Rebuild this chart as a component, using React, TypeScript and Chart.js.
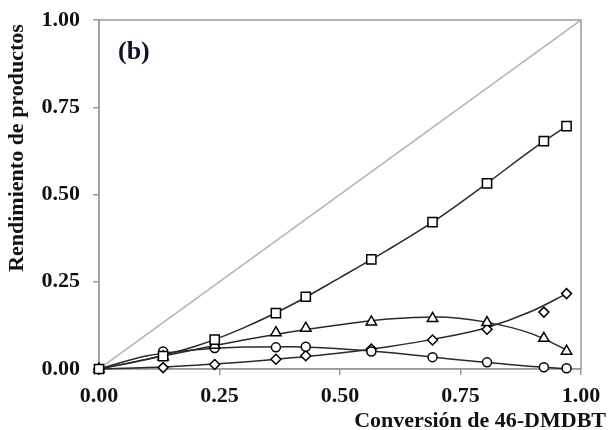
import React, { useEffect, useRef } from "react";
import { Chart, registerables } from "chart.js";

Chart.register(...registerables);

// Measured points (x = conversion of 46-DMDBT)
const xConv = [0, 0.133, 0.24, 0.367, 0.429, 0.565, 0.692, 0.805, 0.923, 0.97];
const squareVals = [0, 0.037, 0.084, 0.16, 0.207, 0.314, 0.421, 0.532, 0.653, 0.696];
const triangleVals = [0, 0.035, 0.068, 0.104, 0.117, 0.135, 0.145, 0.133, 0.088, 0.051];
const circleVals = [0, 0.05, 0.06, 0.062, 0.064, 0.05, 0.034, 0.019, 0.005, 0.002];
const diamondVals = [0, 0.004, 0.013, 0.028, 0.038, 0.057, 0.083, 0.114, 0.163, 0.216];

// Trend curves
const fitX = [0, 0.1, 0.2, 0.3, 0.4, 0.5, 0.6, 0.7, 0.8, 0.9, 0.97];
const squareFit = [0, 0.028, 0.065, 0.118, 0.184, 0.262, 0.342, 0.428, 0.527, 0.63, 0.696];
const triangleFit = [0, 0.028, 0.056, 0.083, 0.107, 0.127, 0.143, 0.149, 0.135, 0.1, 0.055];
const circleFit = [0, 0.038, 0.055, 0.063, 0.064, 0.058, 0.047, 0.033, 0.019, 0.007, 0.001];
const diamondFit = [0, 0.004, 0.011, 0.02, 0.032, 0.046, 0.064, 0.087, 0.117, 0.167, 0.216];

const diagX = [0, 1];
const diagY = [0, 1];

const tickValues = [0, 0.25, 0.5, 0.75, 1];

const xTitle = "Conversión de 46-DMDBT";
const yTitle = "Rendimiento de productos";
const panelLabel = "(b)";

const FONT = "'Liberation Serif', 'Times New Roman', serif";
const AXIS = "#9a9a9a";
const LINE = "#2a2a2a";

const pts = (xs: number[], ys: number[]) => xs.map((x, i) => ({ x, y: ys[i] }));

export default function App() {
  const ref = useRef<HTMLCanvasElement>(null);

  useEffect(() => {
    const canvas = ref.current;
    if (!canvas) return;

    const framePlugin = {
      id: "frame",
      beforeDatasetsDraw(chart: any) {
        const { ctx, chartArea: a } = chart;
        ctx.save();
        ctx.strokeStyle = AXIS;
        ctx.lineWidth = 1.5;
        ctx.strokeRect(a.left, a.top, a.right - a.left, a.bottom - a.top);
        ctx.restore();
      },
      afterDraw(chart: any) {
        const { ctx, chartArea: a } = chart;
        ctx.save();
        ctx.fillStyle = "#111";
        ctx.font = `bold 22px ${FONT}`;
        ctx.textAlign = "right";
        ctx.textBaseline = "alphabetic";
        ctx.fillText(xTitle, 606, 427);

        ctx.translate(23, 148);
        ctx.rotate(-Math.PI / 2);
        ctx.textAlign = "center";
        ctx.fillText(yTitle, 0, 0);
        ctx.restore();

        ctx.save();
        ctx.fillStyle = "#141428";
        ctx.font = `bold 26px ${FONT}`;
        ctx.textAlign = "left";
        ctx.textBaseline = "alphabetic";
        ctx.fillText(panelLabel, a.left + 19, a.top + 39);
        ctx.restore();
      },
    };

    const marker = (label: string, ys: number[], style: string, r: number) => ({
      type: "scatter" as const,
      label,
      data: pts(xConv, ys),
      showLine: false,
      pointStyle: style,
      pointRadius: r,
      pointBorderColor: "#000",
      pointBackgroundColor: "#fff",
      pointBorderWidth: 1.5,
      clip: false as any,
    });

    const fit = (label: string, ys: number[]) => ({
      type: "line" as const,
      label,
      data: pts(fitX, ys),
      borderColor: LINE,
      borderWidth: 1.5,
      pointRadius: 0,
      tension: 0.4,
      cubicInterpolationMode: "monotone" as const,
      fill: false,
      clip: false as any,
    });

    const tickFont = { family: FONT, size: 22, weight: "bold" as const };

    const chart = new Chart(canvas, {
      type: "scatter",
      data: {
        datasets: [
          marker("square", squareVals, "rect", 6.5),
          marker("triangle", triangleVals, "triangle", 6),
          marker("circle", circleVals, "circle", 4.5),
          marker("diamond", diamondVals, "rectRot", 5),
          fit("squareFit", squareFit),
          fit("triangleFit", triangleFit),
          fit("circleFit", circleFit),
          fit("diamondFit", diamondFit),
          {
            type: "line" as const,
            label: "diag",
            data: pts(diagX, diagY),
            borderColor: "#b4b4b4",
            borderWidth: 1.5,
            pointRadius: 0,
            tension: 0,
            fill: false,
          },
        ] as any,
      },
      options: {
        animation: false,
        responsive: false,
        devicePixelRatio: 1,
        layout: { padding: { top: 20, right: 27, bottom: 0, left: 0 } },
        plugins: {
          legend: { display: false },
          tooltip: { enabled: false },
        },
        scales: {
          x: {
            type: "linear",
            min: 0,
            max: 1,
            afterBuildTicks: (s: any) => {
              s.ticks = tickValues.map((v) => ({ value: v }));
            },
            afterFit: (s: any) => {
              s.height = 61;
              s.paddingLeft = 0;
              s.paddingRight = 0;
            },
            ticks: {
              callback: (v: any) => Number(v).toFixed(2),
              font: tickFont,
              color: "#111",
              padding: 8,
              maxRotation: 0,
              autoSkip: false,
            },
            grid: {
              drawOnChartArea: false,
              drawTicks: true,
              tickLength: 6,
              color: AXIS,
              lineWidth: 1.5,
            },
            border: { display: true, color: AXIS, width: 1.5 },
          },
          y: {
            type: "linear",
            min: 0,
            max: 1,
            afterBuildTicks: (s: any) => {
              s.ticks = tickValues.map((v) => ({ value: v }));
            },
            afterFit: (s: any) => {
              s.width = 99;
              s.paddingTop = 0;
              s.paddingBottom = 0;
            },
            ticks: {
              callback: (v: any) => Number(v).toFixed(2),
              font: tickFont,
              color: "#111",
              padding: 13,
              autoSkip: false,
            },
            grid: {
              drawOnChartArea: false,
              drawTicks: true,
              tickLength: 6,
              color: AXIS,
              lineWidth: 1.5,
            },
            border: { display: true, color: AXIS, width: 1.5 },
          },
        },
      },
      plugins: [framePlugin],
    });

    return () => chart.destroy();
  }, []);

  return (
    <div style={{ position: "absolute", left: 0, top: 0, width: 608, height: 430 }}>
      <canvas ref={ref} width={608} height={430} style={{ display: "block", width: 608, height: 430 }} />
    </div>
  );
}
